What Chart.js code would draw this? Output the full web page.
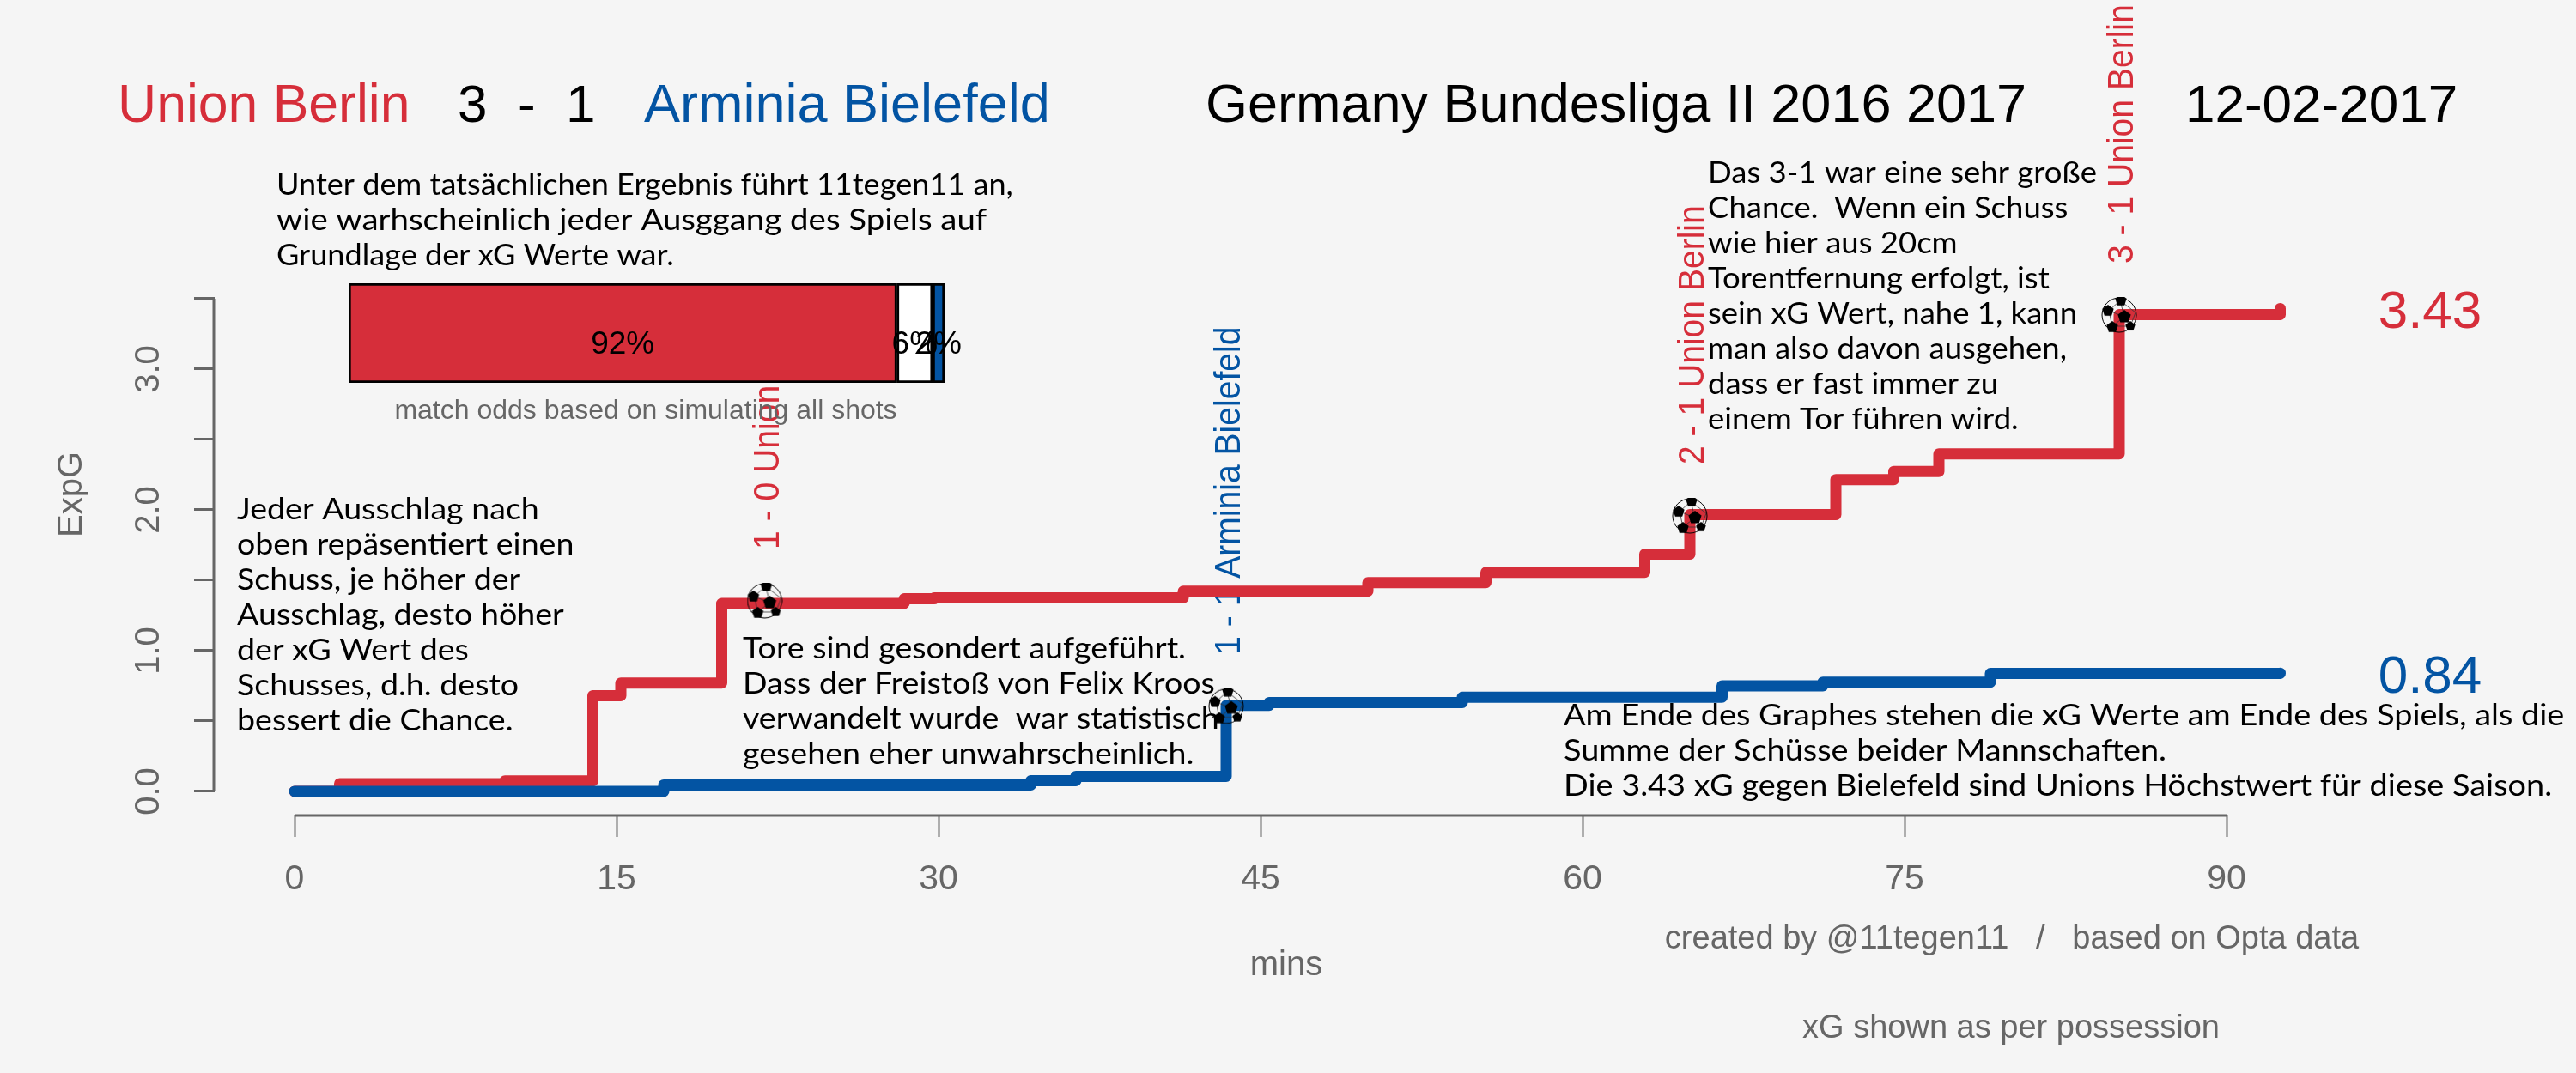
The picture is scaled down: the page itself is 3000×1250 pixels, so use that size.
<!DOCTYPE html>
<html>
<head>
<meta charset="utf-8">
<title>Union Berlin 3 - 1 Arminia Bielefeld</title>
<script src="https://cdn.jsdelivr.net/npm/chart.js@4"></script>
<style>
  html, body { margin: 0; padding: 0; background: #f5f5f5; }
  #wrap { position: relative; width: 3000px; height: 1250px; overflow: hidden; }
  #xgChart { position: absolute; left: 0; top: 0; }
  #oddsChart { position: absolute; left: 406px; top: 330px; }
</style>
</head>
<body>
<div id="wrap">
  <canvas id="xgChart" width="3000" height="1250"></canvas>
  <canvas id="oddsChart" width="780" height="116"></canvas>
</div>
<script>
const RED = "#d62e3a";
const BLUE = "#0354a3";
const GREY = "#666666";

// cumulative xG, each entry is the minute of a shot and the total after it
const redMinutes = [0, 2.1, 9.8, 13.9, 15.2, 19.9, 28.4, 29.8, 41.4, 50, 55.5, 62.9, 65, 71.8, 74.5, 76.6, 85, 92.5];
const redXg = [0, 0.055, 0.075, 0.68, 0.77, 1.335, 1.368, 1.375, 1.422, 1.483, 1.556, 1.685, 1.966, 2.215, 2.273, 2.398, 3.387, 3.43];
const blueMinutes = [0, 17.2, 34.3, 36.4, 43.4, 45.4, 54.4, 66.5, 71.2, 79, 92.5];
const blueXg = [0, 0.046, 0.076, 0.107, 0.611, 0.631, 0.669, 0.75, 0.776, 0.838, 0.84];

const goalMinutes = [21.9, 43.4, 65, 85];
const goalXg = [1.354, 0.605, 1.957, 3.384];
const goalLabels = ["1 - 0 Union Berlin", "1 - 1 Arminia Bielefeld", "2 - 1 Union Berlin", "3 - 1 Union Berlin"];
const goalColors = [RED, BLUE, RED, RED];

const xTicks = [0, 15, 30, 45, 60, 75, 90];
const yTicks = [0, 0.5, 1, 1.5, 2, 2.5, 3, 3.5];

const oddsLabels = ["92%", "6%", "2%"];
const oddsValues = [92, 6, 2];
const oddsColors = [RED, "#ffffff", BLUE];

const notes = [
  { x: 322, y: 227, sx: 1.062, lines: ["Unter dem tatsächlichen Ergebnis führt 11tegen11 an,"] },
  { x: 322, y: 268, sx: 1.13, lines: ["wie warhscheinlich jeder Ausggang des Spiels auf"] },
  { x: 322, y: 309, sx: 1.062, lines: ["Grundlage der xG Werte war."] },
  { x: 1989, y: 213, sx: 1.074, lines: ["Das 3-1 war eine sehr große", "Chance.  Wenn ein Schuss", "wie hier aus 20cm", "Torentfernung erfolgt, ist", "sein xG Wert, nahe 1, kann", "man also davon ausgehen,", "dass er fast immer zu", "einem Tor führen wird."] },
  { x: 276, y: 605, sx: 1.105, lines: ["Jeder Ausschlag nach", "oben repäsentiert einen", "Schuss, je höher der", "Ausschlag, desto höher", "der xG Wert des", "Schusses, d.h. desto", "bessert die Chance."] },
  { x: 865, y: 767, sx: 1.105, lines: ["Tore sind gesondert aufgeführt.", "Dass der Freistoß von Felix Kroos", "verwandelt wurde  war statistisch", "gesehen eher unwahrscheinlich."] },
  { x: 1821, y: 845, sx: 1.114, lines: ["Am Ende des Graphes stehen die xG Werte am Ende des Spiels, als die", "Summe der Schüsse beider Mannschaften.", "Die 3.43 xG gegen Bielefeld sind Unions Höchstwert für diese Saison."] }
];

const headerTexts = [
  { text: "Union Berlin", x: 137, size: 62.5, color: RED },
  { text: "3", x: 533, size: 62, color: "#000" },
  { text: "-", x: 603, size: 62, color: "#000" },
  { text: "1", x: 659, size: 62, color: "#000" },
  { text: "Arminia Bielefeld", x: 750, size: 63, color: BLUE },
  { text: "Germany Bundesliga II 2016 2017", x: 1404, size: 63, color: "#000" },
  { text: "12-02-2017", x: 2545, size: 62, color: "#000" }
];

const greyTexts = [
  { text: "ExpG", x: 95, y: 576, size: 40, rotate: true },
  { text: "mins", x: 1498, y: 1136, size: 40 },
  { text: "match odds based on simulating all shots", x: 752, y: 488, size: 32 },
  { text: "created by @11tegen11   /   based on Opta data", x: 2343, y: 1105, size: 38 },
  { text: "xG shown as per possession", x: 2342, y: 1209, size: 38 }
];

// football marker, open panels so the line shows through like in the original
function makeBall() {
  const c = document.createElement("canvas");
  c.width = 42;
  c.height = 42;
  const g = c.getContext("2d");
  g.translate(21, 21);
  g.strokeStyle = "#333333";
  g.lineWidth = 0.8;
  g.beginPath();
  [[6, 2, -12, -5], [6, 2, 1, -17], [6, 2, -8, 13], [6, 2, 13, 13], [-12, -5, 1, -17], [-12, -5, -8, 13], [-8, 13, 13, 13], [1, -17, 19, -3], [13, 13, 19, -3]].forEach(s => {
    g.moveTo(s[0], s[1]);
    g.lineTo(s[2], s[3]);
  });
  g.stroke();
  g.fillStyle = "#000000";
  pentagon(g, 6, 2, 8);
  pentagon(g, 2, -17, 7);
  pentagon(g, -13, -5, 7);
  pentagon(g, -8, 14, 7);
  pentagon(g, 13, 13, 6);
  g.strokeStyle = "#000000";
  g.lineWidth = 1;
  g.beginPath();
  g.arc(0, 0, 20, 0, Math.PI * 2);
  g.stroke();
  return c;
}

function pentagon(g, cx, cy, r) {
  g.beginPath();
  for (let i = 0; i < 5; i++) {
    const a = -Math.PI / 2 + i * 2 * Math.PI / 5;
    g.lineTo(cx + r * Math.cos(a), cy + r * Math.sin(a));
  }
  g.closePath();
  g.fill();
}

const toPoints = (xs, ys) => xs.map((x, i) => ({ x: x, y: ys[i] }));

// rotated goal captions sit under the lines
const goalLabelPlugin = {
  id: "goalLabelPlugin",
  beforeDatasetsDraw(chart) {
    const ctx = chart.ctx;
    const { x, y } = chart.scales;
    ctx.save();
    ctx.font = "42px 'Liberation Sans'";
    ctx.textAlign = "left";
    ctx.textBaseline = "alphabetic";
    goalLabels.forEach((label, i) => {
      ctx.save();
      ctx.translate(x.getPixelForValue(goalMinutes[i]) + 16, y.getPixelForValue(goalXg[i]) - 60);
      ctx.rotate(-Math.PI / 2);
      ctx.scale(0.93, 1);
      ctx.fillStyle = goalColors[i];
      ctx.fillText(label, 0, 0);
      ctx.restore();
    });
    ctx.restore();
  }
};

const textPlugin = {
  id: "textPlugin",
  afterDatasetsDraw(chart) {
    const ctx = chart.ctx;
    const { x, y } = chart.scales;
    ctx.save();

    // axis lines only span the ticks, R style
    ctx.strokeStyle = GREY;
    ctx.lineWidth = 3;
    ctx.beginPath();
    ctx.moveTo(x.getPixelForValue(xTicks[0]), x.top + 1);
    ctx.lineTo(x.getPixelForValue(xTicks[xTicks.length - 1]), x.top + 1);
    ctx.moveTo(y.right - 1, y.getPixelForValue(yTicks[0]));
    ctx.lineTo(y.right - 1, y.getPixelForValue(yTicks[yTicks.length - 1]));
    ctx.stroke();

    ctx.textBaseline = "alphabetic";
    ctx.textAlign = "left";
    headerTexts.forEach(t => {
      ctx.font = t.size + "px 'Liberation Sans'";
      ctx.fillStyle = t.color;
      ctx.fillText(t.text, t.x, 142);
    });

    // final totals at the end of each line
    ctx.font = "62px 'Liberation Sans'";
    ctx.textAlign = "center";
    ctx.fillStyle = RED;
    ctx.fillText(redXg[redXg.length - 1].toFixed(2), 2830, y.getPixelForValue(redXg[redXg.length - 1]) + 23);
    ctx.fillStyle = BLUE;
    ctx.fillText(blueXg[blueXg.length - 1].toFixed(2), 2830, y.getPixelForValue(blueXg[blueXg.length - 1]) + 23);

    ctx.fillStyle = GREY;
    greyTexts.forEach(t => {
      ctx.font = t.size + "px 'Liberation Sans'";
      ctx.save();
      ctx.translate(t.x, t.y);
      if (t.rotate) ctx.rotate(-Math.PI / 2);
      ctx.fillText(t.text, 0, 0);
      ctx.restore();
    });

    ctx.textAlign = "left";
    ctx.fillStyle = "#000000";
    ctx.font = "34px Lato";
    notes.forEach(n => {
      n.lines.forEach((line, i) => {
        ctx.save();
        ctx.translate(n.x, n.y + i * 41);
        ctx.scale(n.sx, 1);
        ctx.fillText(line, 0, 0);
        ctx.restore();
      });
    });
    ctx.restore();
  }
};

new Chart(document.getElementById("xgChart"), {
  type: "line",
  data: {
    datasets: [
      { label: "Goals", data: toPoints(goalMinutes, goalXg), showLine: false, pointStyle: makeBall(), pointRadius: 20 },
      { label: "Arminia Bielefeld", data: toPoints(blueMinutes, blueXg), borderColor: BLUE, borderWidth: 13, stepped: "before", pointRadius: 0, borderCapStyle: "round", borderJoinStyle: "round" },
      { label: "Union Berlin", data: toPoints(redMinutes, redXg), borderColor: RED, borderWidth: 13, stepped: "before", pointRadius: 0, borderCapStyle: "round", borderJoinStyle: "round" }
    ]
  },
  options: {
    responsive: false,
    devicePixelRatio: 1,
    animation: false,
    layout: { padding: 0, autoPadding: false },
    plugins: { legend: { display: false }, tooltip: { enabled: false }, title: { display: false } },
    scales: {
      x: {
        type: "linear",
        min: -3.72,
        max: 106.28,
        afterFit(scale) {
          scale.height = 301;
          scale.paddingLeft = 0;
          scale.paddingRight = 0;
        },
        afterBuildTicks(scale) { scale.ticks = xTicks.map(v => ({ value: v })); },
        grid: { drawOnChartArea: false, tickLength: 26, tickWidth: 2, tickColor: GREY },
        border: { display: false },
        ticks: {
          autoSkip: false,
          maxRotation: 0,
          padding: 25,
          color: GREY,
          font: { family: "'Liberation Sans'", size: 41 },
          callback: v => String(v)
        }
      },
      y: {
        type: "linear",
        min: -0.165,
        max: 5.622,
        afterFit(scale) {
          scale.width = 250;
          scale.paddingTop = 0;
          scale.paddingBottom = 0;
        },
        afterBuildTicks(scale) { scale.ticks = yTicks.map(v => ({ value: v })); },
        grid: { drawOnChartArea: false, tickLength: 24, tickWidth: 3, tickColor: GREY },
        border: { display: false },
        ticks: {
          autoSkip: false,
          minRotation: 90,
          maxRotation: 90,
          crossAlign: "center",
          padding: 24,
          color: GREY,
          font: { family: "'Liberation Sans'", size: 40 },
          callback: v => (Number.isInteger(v) ? v.toFixed(1) : "")
        }
      }
    }
  },
  plugins: [goalLabelPlugin, textPlugin]
});

// percentages centred on each segment, the narrow ones overlap like in the original
const oddsLabelPlugin = {
  id: "oddsLabelPlugin",
  afterDatasetsDraw(chart) {
    const ctx = chart.ctx;
    ctx.save();
    ctx.font = "37px 'Liberation Sans'";
    ctx.textAlign = "center";
    ctx.textBaseline = "alphabetic";
    ctx.fillStyle = "#000000";
    oddsLabels.forEach((label, i) => {
      const bar = chart.getDatasetMeta(i).data[0];
      ctx.fillText(label, (bar.x + bar.base) / 2, bar.y + 24);
    });
    ctx.restore();
  }
};

new Chart(document.getElementById("oddsChart"), {
  type: "bar",
  data: {
    labels: ["odds"],
    datasets: oddsValues.map((v, i) => ({
      label: oddsLabels[i],
      data: [v],
      backgroundColor: oddsColors[i],
      borderColor: "#000000",
      borderWidth: 3,
      borderSkipped: false,
      barPercentage: 1,
      categoryPercentage: 1
    }))
  },
  options: {
    indexAxis: "y",
    responsive: false,
    devicePixelRatio: 1,
    animation: false,
    layout: { padding: { right: 86 } },
    plugins: { legend: { display: false }, tooltip: { enabled: false } },
    scales: {
      x: { stacked: true, display: false, min: 0, max: 100 },
      y: { stacked: true, display: false }
    }
  },
  plugins: [oddsLabelPlugin]
});
</script>
</body>
</html>
